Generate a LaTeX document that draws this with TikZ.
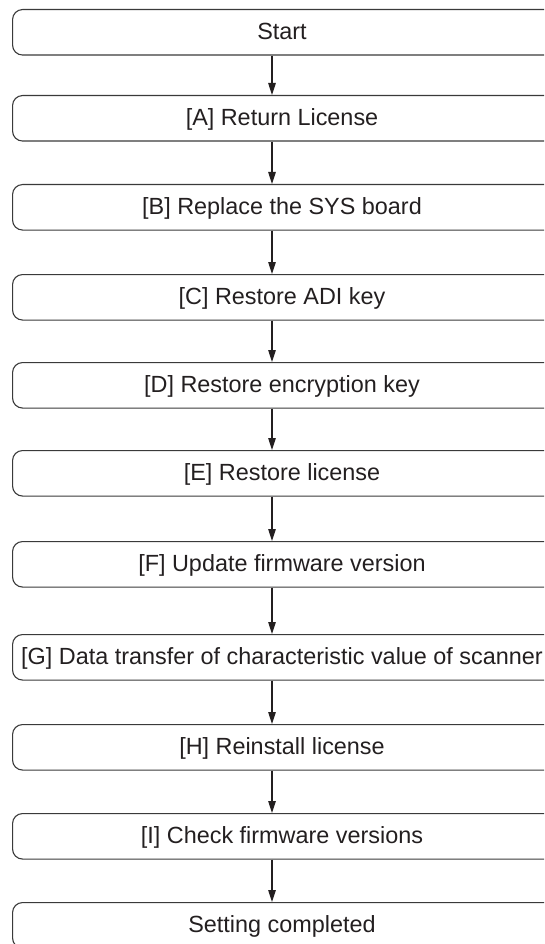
\documentclass[tikz,border=0pt]{standalone}
\usepackage{fontspec}
\setmainfont{Liberation Sans}
\usetikzlibrary{arrows.meta}
\definecolor{boxline}{HTML}{3A3A3A}
\definecolor{ink}{HTML}{231F20}
\begin{document}
\begin{tikzpicture}[x=1pt,y=-1pt,
  stepbox/.style={draw=boxline, line width=1.1pt, rounded corners=10pt,
    minimum width=560pt, minimum height=45.5pt, anchor=north west, inner sep=0pt},
  steptext/.style={font=\fontsize{23.4}{28}\selectfont, text=ink, anchor=base, inner sep=0pt},
  flow/.style={draw=ink, line width=1.1pt, -{Triangle[length=12pt,width=7.5pt]}}]
\clip (0,0) rectangle (544,944);
\coordinate (ax) at (272,0);
\foreach \i/\t/\s in {0/9/Start, 1/95/{[A] Return License}, 2/184/{[B] Replace the SYS board},
  3/274/{[C] Restore ADI key}, 4/362/{[D] Restore encryption key}, 5/450/{[E] Restore license},
  6/541/{[F] Update firmware version}, 7/634/{[G] Data transfer of characteristic value of scanner},
  8/724/{[H] Reinstall license}, 9/813/{[I] Check firmware versions}, 10/902/{Setting completed}} {
  \node[stepbox] (b\i) at (12,\t) {};
  \node[steptext] (t\i) at (282,\t+30.3) {\s};
}
\foreach \i [evaluate=\i as \j using int(\i+1)] in {0,...,9} {
  \draw[flow] (ax |- b\i.south) -- (ax |- b\j.north);
}
\end{tikzpicture}
\end{document}
